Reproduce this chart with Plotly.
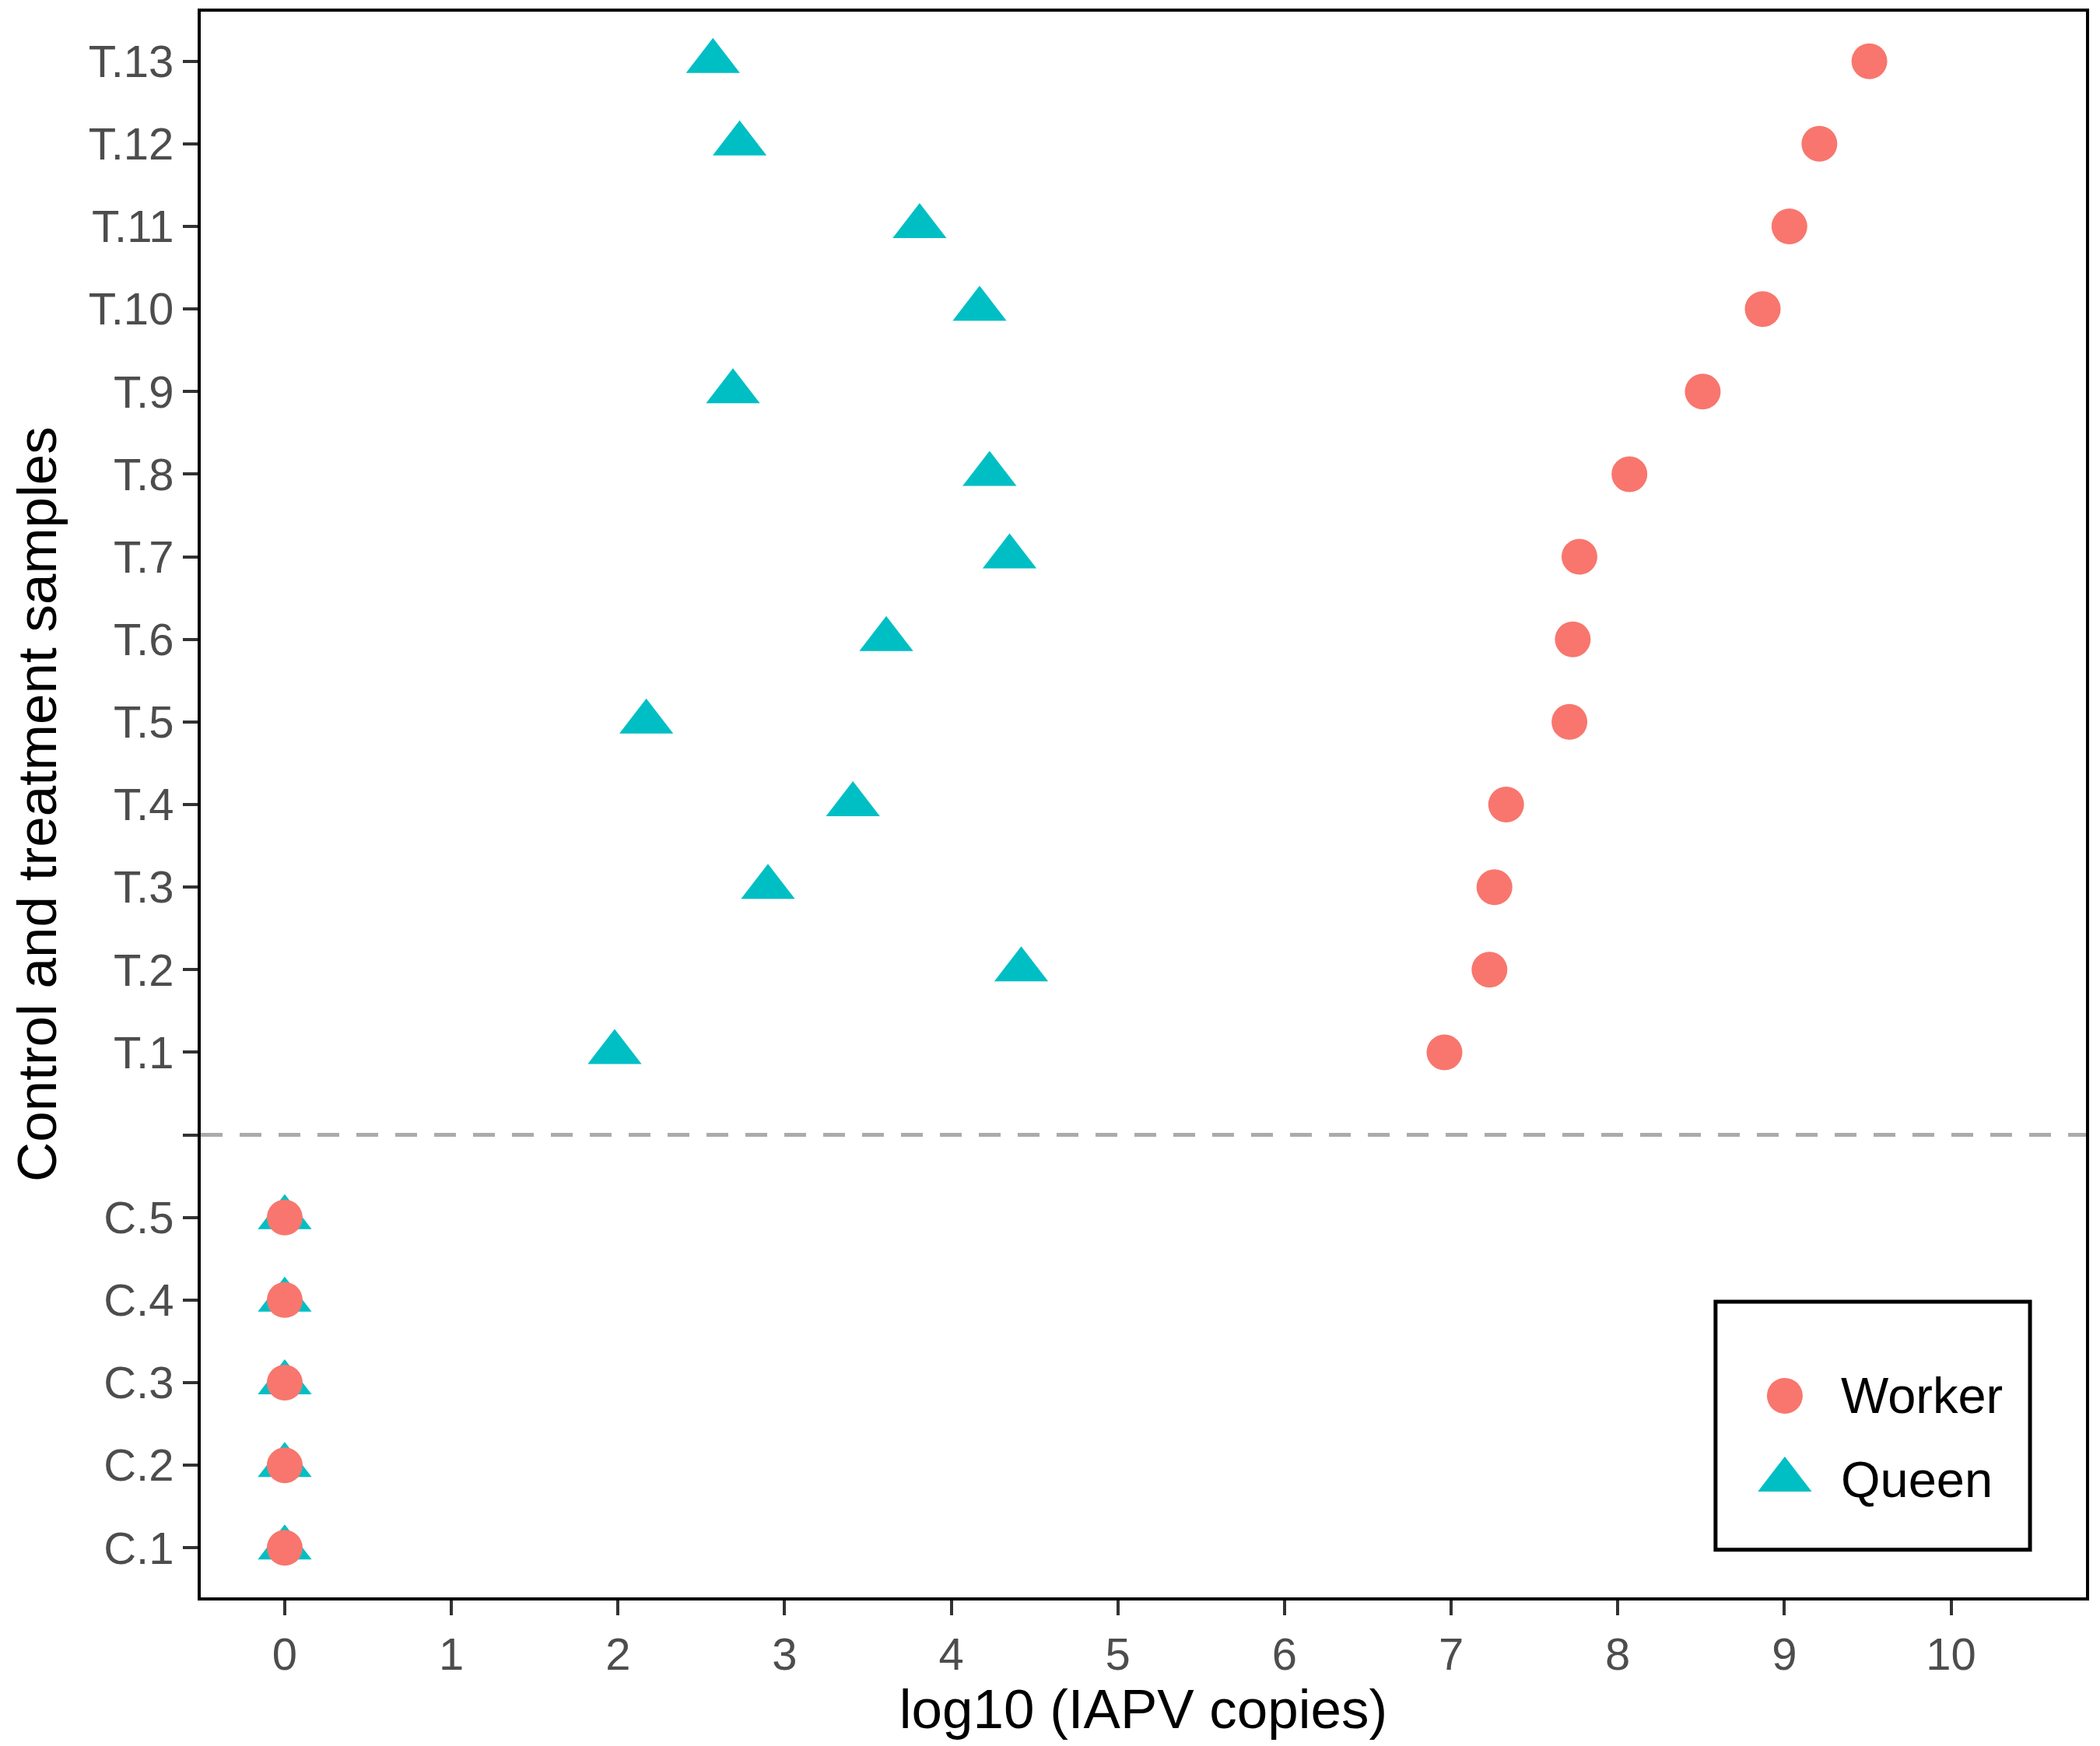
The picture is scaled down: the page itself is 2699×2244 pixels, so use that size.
import plotly.graph_objects as go

# sample labels, bottom to top; "" is the empty spacer row between the groups
categories = ["C.1", "C.2", "C.3", "C.4", "C.5", "",
              "T.1", "T.2", "T.3", "T.4", "T.5", "T.6", "T.7",
              "T.8", "T.9", "T.10", "T.11", "T.12", "T.13"]

samples = ["C.1", "C.2", "C.3", "C.4", "C.5",
           "T.1", "T.2", "T.3", "T.4", "T.5", "T.6", "T.7",
           "T.8", "T.9", "T.10", "T.11", "T.12", "T.13"]

# log10 IAPV copies
worker = [0, 0, 0, 0, 0,
          6.96, 7.23, 7.26, 7.33, 7.71, 7.73, 7.77,
          8.07, 8.51, 8.87, 9.03, 9.21, 9.51]
queen = [0, 0, 0, 0, 0,
         1.98, 4.42, 2.90, 3.41, 2.17, 3.61, 4.35,
         4.23, 2.69, 4.17, 3.81, 2.73, 2.57]

series_names = ["Worker", "Queen"]
separator = ""   # row where the dashed divider sits

x_ticks = list(range(0, 11))

####################################

pos = {c: i + 1 for i, c in enumerate(categories)}
y_pos = [pos[s] for s in samples]

font = "Liberation Sans, Arial, sans-serif"
colors = {"Worker": "#F8766D", "Queen": "#00BFC4"}
symbols = {"Worker": "circle", "Queen": "triangle-up"}
sizes = {"Worker": 46, "Queen": 60}
values = {"Worker": worker, "Queen": queen}

fig = go.Figure()

# queen first so the worker circles sit on top at the control rows
for name in ["Queen", "Worker"]:
    fig.add_trace(go.Scatter(
        x=values[name], y=y_pos, mode="markers", name=name,
        marker=dict(color=colors[name], symbol=symbols[name], size=sizes[name],
                    line=dict(width=0)),
        showlegend=False,
    ))

# dashed divider between control and treatment rows
fig.add_hline(y=pos[separator], line=dict(color="#ABABAB", width=5, dash="28px,22px"),
              layer="below")

# hand-made legend on a hidden helper axis (plotly caps legend symbols at 16px)
for i, name in enumerate(series_names):
    fig.add_trace(go.Scatter(
        x=[0], y=[len(series_names) - 1 - i], mode="markers",
        marker=dict(color=colors[name], symbol=symbols[name], size=sizes[name],
                    line=dict(width=0)),
        xaxis="x2", yaxis="y2", showlegend=False, hoverinfo="skip",
    ))
    fig.add_annotation(
        x=0, y=len(series_names) - 1 - i, xref="x2", yref="y2",
        text=name, showarrow=False, xanchor="left", xshift=70,
        font=dict(family=font, size=65, color="black"),
    )

fig.add_shape(type="rect", xref="x2 domain", yref="y2 domain",
              x0=0, x1=1, y0=0, y1=1, line=dict(color="black", width=5))

# y title as an annotation: an axis title gets clamped inside the margin
fig.add_annotation(
    x=0, y=0.5, xref="paper", yref="paper", xshift=-211,
    text="Control and treatment samples", textangle=-90, showarrow=False,
    xanchor="center", yanchor="middle",
    font=dict(family=font, size=71, color="black"),
)

axis_common = dict(
    showline=True, linecolor="black", linewidth=4, mirror=True,
    ticks="outside", ticklen=19, tickwidth=4, tickcolor="#333333",
    tickfont=dict(family=font, size=58, color="#4D4D4D"),
    showgrid=False, zeroline=False, automargin=False,
)

# the page body adds an 8px margin, so the figure is 16px smaller than the window
fig.update_layout(
    width=2683, height=2228,
    margin=dict(l=250, r=10, t=7, b=183),
    paper_bgcolor="white", plot_bgcolor="white",
    font=dict(family=font),
    xaxis=dict(
        range=[-0.504, 10.81], tickvals=x_ticks,
        title=dict(text="log10 (IAPV copies)", font=dict(family=font, size=71, color="black"),
                   standoff=7),
        **axis_common,
    ),
    yaxis=dict(
        range=[0.4, 19.6], tickvals=[pos[c] for c in categories], ticktext=categories,
        **axis_common,
    ),
    xaxis2=dict(domain=[0.8035, 0.9703], range=[-89, 315], anchor="y2",
                visible=False, fixedrange=True),
    yaxis2=dict(domain=[0.030, 0.1865], range=[-0.833, 2.12], anchor="x2",
                visible=False, fixedrange=True),
    showlegend=False,
)

fig.write_html("out.html")
